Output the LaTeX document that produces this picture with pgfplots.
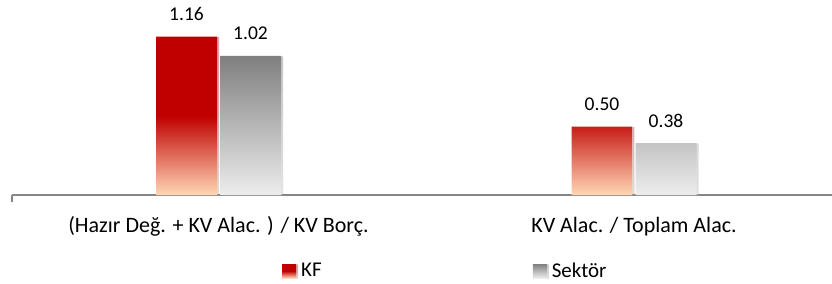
\documentclass[border=0pt]{standalone}
\usepackage{fontspec}
\setmainfont{Carlito}
\usepackage{pgfplots}
\pgfplotsset{compat=1.18}
\usetikzlibrary{shadows}
\definecolor{kfred}{HTML}{C00000}
\definecolor{kfpeach}{HTML}{FFD7B5}
\definecolor{sgtop}{HTML}{7F7F7F}
\definecolor{sgbot}{HTML}{EDEDED}
\definecolor{axgray}{HTML}{868686}
\pgfdeclareverticalshading{kfshade}{100bp}{color(0bp)=(kfpeach); color(25bp)=(kfpeach); color(50bp)=(kfred); color(75bp)=(kfred); color(100bp)=(kfred)}
\pgfdeclareverticalshading{sgshade}{100bp}{color(0bp)=(sgbot); color(25bp)=(sgbot); color(75bp)=(sgtop); color(100bp)=(sgtop)}
\begin{document}
\begin{tikzpicture}
\useasboundingbox (0,0) rectangle (832bp,284bp);
\begin{axis}[
  at={(12bp,89bp)}, anchor=south west,
  scale only axis, width=820bp, height=191.1bp,
  xmin=-0.497, xmax=1.4765, ymin=0, ymax=1.4,
  clip=false,
  axis x line*=bottom, axis y line=none,
  x axis line style={-, color=axgray, line width=1.8bp},
  ybar=3bp, bar width=61bp,
  xtick={0,1}, xticklabels={(Hazır Değ. + KV Alac. ) / KV Borç., KV Alac. / Toplam Alac.},
  major tick length=0pt,
  extra x ticks={-0.497}, extra x tick labels={},
  extra x tick style={major tick length=7bp, tick align=outside, tick style={color=axgray, line width=1.2bp}},
  xticklabel style={font=\fontsize{22bp}{25bp}\selectfont, anchor=base, yshift=-37bp, inner sep=0pt},
  /pgf/number format/assume math mode=true,
  nodes near coords={\pgfmathprintnumber[fixed, fixed zerofill, precision=2]{\pgfplotspointmeta}},
  point meta=y,
  every node near coord/.append style={font=\fontsize{19.5bp}{23bp}\selectfont, anchor=base, yshift=16bp, inner sep=0pt, color=black},
  legend columns=2,
  legend style={at={(0.3293,-0.3977)}, anchor=west, draw=none, fill=none, inner sep=0pt,
    font=\fontsize{21bp}{24bp}\selectfont,
    nodes={inner sep=0pt},
    /tikz/every odd column/.append style={column sep=5bp},
    /tikz/column 2/.style={column sep=211bp}},
  legend image code/.code={\path[#1] (0bp,-7bp) rectangle (14bp,7bp);},
]
\addplot[draw=none, shade, shading=kfshade, drop shadow={shadow xshift=2bp, shadow yshift=-0.5bp, opacity=0.25}] coordinates {(0,1.16) (1,0.50)};
\addlegendentry{KF}
\addplot[draw=none, shade, shading=sgshade, drop shadow={shadow xshift=2bp, shadow yshift=-0.5bp, opacity=0.25}] coordinates {(0,1.02) (1,0.38)};
\addlegendentry{Sektör}
\end{axis}
\end{tikzpicture}
\end{document}
